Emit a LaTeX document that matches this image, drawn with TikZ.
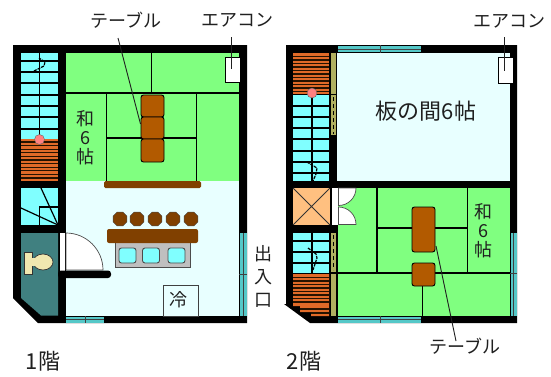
\documentclass[tikz,border=0pt]{standalone}
\usepackage{fontspec}
\setmainfont{Noto Sans CJK JP}
\usetikzlibrary{shapes.geometric}
\definecolor{tatami}{HTML}{80FF80}
\definecolor{stairblue}{HTML}{80FFFF}
\definecolor{floorc}{HTML}{E8FFFF}
\definecolor{tealr}{HTML}{408080}
\definecolor{winc}{HTML}{55C8C8}
\definecolor{tblc}{HTML}{B25A00}
\definecolor{barc}{HTML}{804000}
\definecolor{stepc}{HTML}{E06A28}
\definecolor{olivec}{HTML}{B0B060}
\definecolor{pinkc}{HTML}{FF8080}
\definecolor{closet}{HTML}{FFC080}
\definecolor{ink}{HTML}{202020}
\definecolor{creamc}{HTML}{F0E8B0}
\tikzset{
  x=1pt,y=-1pt,
  wallfill/.style={fill=black,draw=none},
  matfill/.style={fill=tatami,draw=none},
  stairfill/.style={fill=stairblue,draw=none},
  stepfill/.style={fill=stepc,draw=none},
  olivefill/.style={fill=olivec,draw=none},
  matline/.style={draw=black,line width=1.8pt},
  tread/.style={draw=black,line width=1.2pt},
  tablebox/.style={draw=black,fill=tblc,line width=0.9pt,rounded corners=2.5pt,inner sep=0pt},
  txt/.style={text=ink,inner sep=0pt,font=\fontsize{18}{19}\selectfont},
  bigtxt/.style={text=ink,inner sep=0pt,font=\fontsize{22}{22}\selectfont},
  vtxt/.style={txt,align=center},
  leader/.style={draw=ink,line width=0.9pt},
  windowpane/.style={fill=winc,draw=none},
  winline/.style={draw=black!75,line width=0.7pt},
  windiv/.style={draw=black!75,line width=1pt},
  chair/.style={regular polygon,regular polygon sides=8,minimum size=15pt,inner sep=0pt,fill=barc,draw=black!70,line width=0.4pt},
  squiggle/.style={draw=black,line width=1.2pt,dash pattern=on 3pt off 1pt},
  treadline/.style={draw=black!70!barc,line width=1.1pt},
  knob/.style={circle,fill=pinkc,draw=black!60,line width=0.4pt,minimum size=10pt,inner sep=0pt},
  basin/.style={draw=black!70,fill=stairblue,line width=0.9pt,rounded corners=2.5pt,inner sep=0pt},
  dashstrip/.style={draw=black,line width=1.4pt,dash pattern=on 4pt off 3pt},
  acbox/.style={draw=black,fill=white,line width=1pt,inner sep=0pt},
  doorleaf/.style={fill=white,draw=black!70,line width=0.7pt},
  seat/.style={fill=creamc,draw=black!80,line width=0.7pt},
}
\begin{document}
\begin{tikzpicture}
\path[use as bounding box,fill=white] (0,0) rectangle (551,376);

% ---------- first floor ----------
\path[wallfill] (13,45) -- (247,45) -- (247,323) -- (38,323) -- (13,298) -- cycle;
\path[stairfill] (21,53) rectangle (58,139);
\path[stepfill] (21,139) rectangle (58,181);
\foreach \y in {61,72,83,95,106,117,129} \draw[tread] (21,\y) -- (58,\y);
\foreach \y in {142,145.6,149.2,152.8,156.4,160,163.6,167.2,170.8,174.4,178} \draw[treadline] (21,\y) -- (58,\y);
\draw[tread] (39.5,53) -- (39.5,139);
\node[knob] (knobA) at (39.5,139.5) {};
\draw[squiggle] (34,71) -- (44,66) -- (45,62) -- (39,58);
% lower stair
\path[stairfill] (21,188) rectangle (58,225);
\draw[tread] (41,188) -- (58,225);
\draw[tread] (21,208) -- (58,225);
\draw[tread] (39.5,225) -- (39.5,207) -- (58,207);
% toilet
\fill[tealr] (21,233) -- (58,233) -- (58,315.5) -- (41,315.5) -- (21,298) -- cycle;
\path[seat] (24,252) rectangle (32,274);
\path[seat] (43,262) ellipse [x radius=10,y radius=8];
\fill[creamc] (30,258) rectangle (36,266);
% rooms
\fill[floorc] (66,181) rectangle (239,316);
\path[matfill] (66,53) rectangle (239,181);
\draw[matline] (66,93) -- (239,93);
\draw[matline] (106.5,93) -- (106.5,181);
\draw[matline] (106.5,138) -- (196.5,138);
\draw[matline] (196.5,93) -- (196.5,181);
\draw[matline] (151.5,53) -- (151.5,93);
\node[tablebox,minimum width=23pt,minimum height=22pt] (t1a) at (152.5,106) {};
\node[tablebox,minimum width=23pt,minimum height=22pt] (t1b) at (152.5,128) {};
\node[tablebox,minimum width=23pt,minimum height=23pt] (t1c) at (152.5,150.5) {};
\fill[barc,rounded corners=1.5pt] (104,181) rectangle (201,188);
\node[acbox,minimum width=15pt,minimum height=25pt] (ac1) at (233,70) {};
\node[vtxt] (wa1) at (85,137.5) {和\\6\\帖};
% door
\fill[white] (59.5,233) rectangle (65,271);
\path[doorleaf] (66,233) .. controls (86.4,233) and (103,249.6) .. (103,270) -- (66,270) -- cycle;
\fill[black,rounded corners=3pt] (58,270.5) rectangle (111,278);
% table set
\foreach \x/\n in {120/a,137/b,155/c,173/d,191/e} \node[chair] (ch\n) at (\x,219) {};
\node[draw=black!70,fill=black!25,line width=0.9pt,minimum width=75pt,minimum height=25pt,inner sep=0pt] (sink) at (152.5,255) {};
\fill[barc,rounded corners=2pt] (107,229) rectangle (198,243);
\foreach \x/\n in {127.5/a,151/b,176.5/c} \node[basin,minimum width=17pt,minimum height=15pt] (bs\n) at (\x,255.5) {};
\node[draw=black!75,fill=floorc,line width=0.9pt,minimum width=35pt,minimum height=31pt,inner sep=0pt] (fridge) at (180.5,300.5) {};
\node[txt] (reizo) at (178,300) {冷};
% windows
\path[windowpane] (66,316.5) rectangle (104,322.5);
\draw[winline] (66,319.5) -- (104,319.5);
\draw[windiv] (85,316) -- (85,323);
\path[windowpane] (240,233) rectangle (246.5,316);
\draw[winline] (243.2,233) -- (243.2,316);
\draw[windiv] (239,274) -- (247,274);
% labels
\node[txt] (tb1) at (126,20) {テーブル};
\node[txt] (ac1t) at (237,20) {エアコン};
\node[txt,align=center,font=\fontsize{18}{23}\selectfont] (door) at (263,276) {出\\入\\口};
\node[bigtxt] (fl1) at (43,361) {1階};
\coordinate (tb1s) at (118,38);
\coordinate (tb1e) at (140.5,124);
\coordinate (ac1s) at (231,37);
\coordinate (ac1e) at (231,69);
\draw[leader] (tb1s) -- (tb1e);
\draw[leader] (ac1s) -- (ac1e);

% ---------- second floor ----------
\path[wallfill] (286,45) -- (517,45) -- (517,323) -- (310,323) -- (284,304) -- (286,304) -- cycle;
\path[stepfill] (293,53) rectangle (329,94);
\foreach \y in {56.5,60,63.5,67,70.5,74,77.5,81,84.5,88,91.5} \draw[treadline] (293,\y) -- (329,\y);
\path[stairfill] (293,95) rectangle (329,181);
\foreach \y in {106,117,128,139,151,162,173} \draw[tread] (293,\y) -- (329,\y);
\draw[tread] (312,95) -- (312,181);
\node[knob] (knobB) at (312,93) {};
\draw[squiggle] (307,162) -- (317,168) -- (316,174) -- (313,181);
\path[olivefill] (331,53) rectangle (336,94);
\path[olivefill] (331,95) rectangle (336,135);
\draw[dashstrip] (333.5,97) -- (333.5,134);
\fill[floorc] (337,53) rectangle (510,181);
\node[bigtxt] (ita) at (426,111) {板の間6帖};
\node[acbox,minimum width=15pt,minimum height=26pt] (ac2) at (505.5,70) {};
\path[windowpane] (338,46) rectangle (421,52);
\draw[winline] (338,49) -- (421,49);
\draw[windiv] (380,45) -- (380,53);
% lower level
\fill[closet] (293,188) rectangle (330,225);
\draw[black!80,line width=0.8pt] (293,188) -- (330,225) (330,188) -- (293,225);
\path[stairfill] (293,233) rectangle (329,273);
\foreach \y in {241,252,263} \draw[tread] (293,\y) -- (329,\y);
\draw[tread] (312,233) -- (312,273);
\draw[squiggle] (308,248) -- (316,254) -- (317,258) -- (313,270);
\path[stepfill] (293,274) -- (329,274) -- (329,316) -- (311,316) -- (311,312) -- (300,312) -- (300,306) -- (293,306) -- cycle;
\foreach \y in {277.5,281,284.5,288,291.5,295,298.5,302} \draw[treadline] (293,\y) -- (329,\y);
\draw[treadline] (300,309) -- (329,309);
\draw[treadline] (311,313) -- (329,313);
\path[olivefill] (331,233) rectangle (336,272);
\draw[dashstrip] (333.5,235) -- (333.5,270);
\path[olivefill] (331,274) rectangle (336,316);
\path[matfill] (338,188) rectangle (510,316);
\fill[black] (329,181) rectangle (338,188);
\fill[black] (293,225) rectangle (338,233);
\draw[matline] (377,188) -- (377,273);
\draw[matline] (377,228) -- (467.5,228);
\draw[matline] (467.5,188) -- (467.5,273);
\draw[matline] (336,273) -- (510,273);
\draw[matline] (422.5,285) -- (422.5,316);
\node[tablebox,minimum width=23pt,minimum height=45pt] (t2a) at (423.5,229.5) {};
\node[tablebox,minimum width=23pt,minimum height=23pt] (t2b) at (423.5,274.5) {};
\node[vtxt] (wa2) at (483,230.5) {和\\6\\帖};
% double door
\fill[white] (332,188) rectangle (337.5,225);
\path[doorleaf] (338.5,188) -- (356,188) .. controls (356,197.7) and (348.2,205.5) .. (338.5,205.5) -- cycle;
\path[doorleaf] (338.5,207) .. controls (348.2,207) and (356,214.8) .. (356,224.5) -- (338.5,224.5) -- cycle;
% windows
\path[windowpane] (338,317) rectangle (421,322.5);
\draw[winline] (338,319.7) -- (421,319.7);
\draw[windiv] (380,316) -- (380,323);
\path[windowpane] (511,233) rectangle (516.5,316);
\draw[winline] (513.7,233) -- (513.7,316);
\draw[windiv] (510,273) -- (517,273);
% labels
\node[txt] (ac2t) at (509,21) {エアコン};
\node[txt] (tb2) at (465,346) {テーブル};
\node[bigtxt] (fl2) at (304,361) {2階};
\coordinate (ac2s) at (504,37);
\coordinate (ac2e) at (504,71);
\coordinate (tb2s) at (436,246);
\coordinate (tb2e) at (456,341);
\draw[leader] (ac2s) -- (ac2e);
\draw[leader] (tb2s) -- (tb2e);
\end{tikzpicture}
\end{document}
